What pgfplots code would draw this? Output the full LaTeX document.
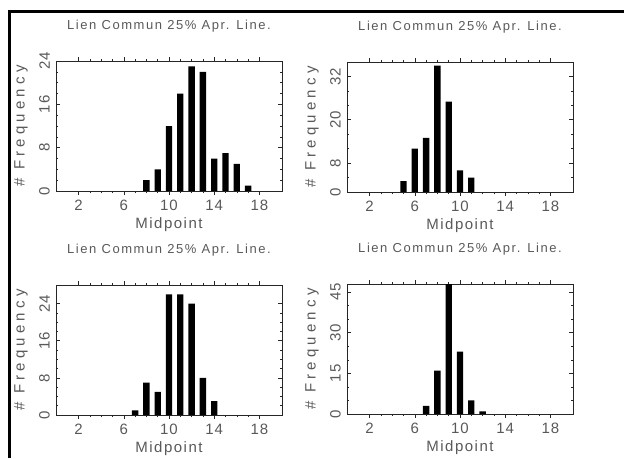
\documentclass[border=0pt]{standalone}
\usepackage{fontspec}
\setmainfont{Liberation Sans}
\newfontfamily\titlefont[LetterSpace=12]{Liberation Sans}
\newfontfamily\labfont[LetterSpace=10]{Liberation Sans}
\newfontfamily\ylabfont[LetterSpace=28]{Liberation Sans}
\newfontfamily\tickfont[LetterSpace=6]{Liberation Sans}
\usepackage{pgfplots}
\pgfplotsset{compat=1.18}
\definecolor{txt}{gray}{0.35}
\definecolor{axc}{gray}{0.15}
\pgfplotsset{hist/.style={
  scale only axis, width=226pt, height=130pt, anchor=south west,
  xmin=0, xmax=20, xtick={2,6,10,14,18}, minor x tick num=3,
  ymin=0, tick align=inside, major tick length=4pt, minor tick length=2pt,
  axis line style={axc, line width=0.8pt},
  every tick/.style={axc, line width=0.6pt},
  ybar, bar width=0.56, bar shift=0pt,
  /pgf/number format/assume math mode=true,
  ticklabel style={font=\tickfont\fontsize{15}{17}\selectfont, text=txt},
  xticklabel style={anchor=north, inner xsep=0pt, inner ysep=5pt},
  yticklabel style={rotate=90, anchor=south, inner xsep=0pt, inner ysep=6pt},
  title={\titlefont Lien Commun 25\% Apr. Line.},
  title style={font=\fontsize{13}{15}\selectfont, text=txt, at={(axis description cs:0.5,1)}, anchor=center, yshift=29pt},
  xlabel={\labfont Midpoint},
  xlabel style={font=\fontsize{15}{17}\selectfont, text=txt, at={(axis description cs:0.5,0)}, anchor=center, yshift=-34pt},
  ylabel={\ylabfont \# Frequency},
  ylabel style={font=\fontsize{15}{17}\selectfont, text=txt, at={(axis description cs:-0.155,0.5)}, anchor=center},
}}
\begin{document}
\begin{tikzpicture}
\path[use as bounding box] (0,0) rectangle (624pt,-458pt);
\draw[line width=3pt, black] (9pt,-458pt) -- (9pt,-11pt) -- (624pt,-11pt);

\begin{axis}[hist, at={(56pt,-191pt)}, ymax=24, ytick={0,8,16,24}, minor y tick num=3]
\addplot[fill=black, draw=none] coordinates {(8,2) (9,4) (10,12) (11,18) (12,23) (13,22) (14,6) (15,7) (16,5) (17,1)};
\end{axis}

\begin{axis}[hist, at={(347pt,-192pt)}, ymax=36, ytick={0,8,20,32}, minor ytick={4,12,16,24,28}]
\addplot[fill=black, draw=none] coordinates {(5,3) (6,12) (7,15) (8,35) (9,25) (10,6) (11,4)};
\end{axis}

\begin{axis}[hist, at={(56pt,-415pt)}, ymax=28, ytick={0,8,16,24}, minor y tick num=3]
\addplot[fill=black, draw=none] coordinates {(7,1) (8,7) (9,5) (10,26) (11,26) (12,24) (13,8) (14,3)};
\end{axis}

\begin{axis}[hist, at={(347pt,-414pt)}, ymax=48, ytick={0,15,30,45}, minor y tick num=2]
\addplot[fill=black, draw=none] coordinates {(7,3) (8,16) (9,52) (10,23) (11,5) (12,1)};
\end{axis}
\end{tikzpicture}
\end{document}
